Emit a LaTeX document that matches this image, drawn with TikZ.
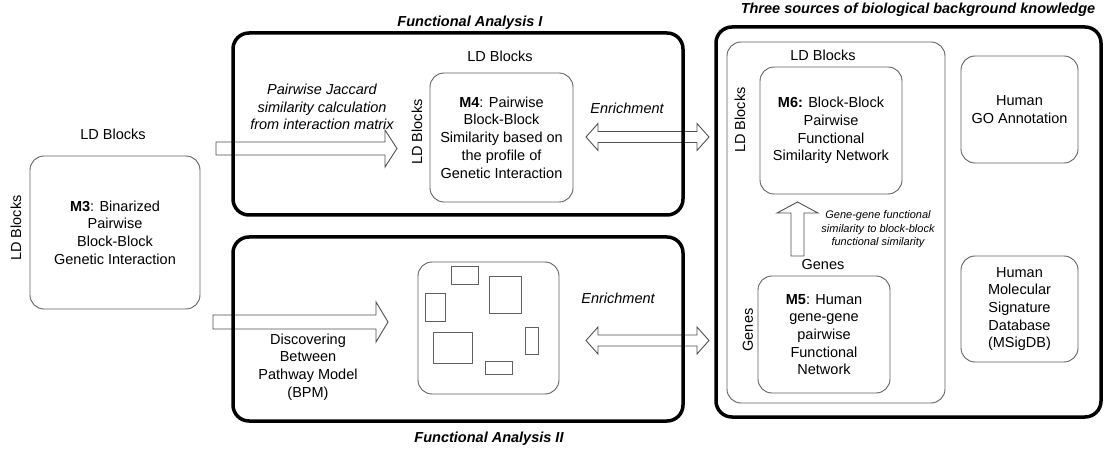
\documentclass[tikz,border=0pt]{standalone}
\usepackage{fontspec}
\setmainfont{Liberation Sans}
\definecolor{boxgray}{HTML}{606060}
\definecolor{arrowgray}{HTML}{505050}
\begin{document}
\begin{tikzpicture}[x=1pt,y=-1pt,
  every node/.style={font=\fontsize{14.5}{17.7}\selectfont, inner sep=0pt, align=center},
  ibox/.style={draw=boxgray, line width=0.9pt, rounded corners=14pt},
  bigbox/.style={draw=black, line width=3.5pt, rounded corners=16pt},
  barrow/.style={draw=arrowgray, line width=0.9pt, fill=white, line join=miter},
  ttl/.style={font=\fontsize{14.5}{17.7}\selectfont\bfseries\itshape},
  lbl/.style={font=\fontsize{14.5}{17.7}\selectfont\itshape},
  smalllbl/.style={font=\fontsize{11}{13.5}\selectfont\itshape},
  rect/.style={draw=boxgray, line width=0.9pt}
]
\useasboundingbox (0,0) rectangle (1104,449);

% block arrows (drawn first)
\coordinate (a1s) at (216,148.5);
\coordinate (a1e) at (397,148.5);
\draw[barrow] (216,142) -- (385,142) -- (385,130) -- (a1e) -- (385,167) -- (385,155) -- (216,155) -- cycle;
\coordinate (a2e) at (388,322);
\draw[barrow] (213,315) -- (376,315) -- (376,302) -- (a2e) -- (376,342) -- (376,329) -- (213,329) -- cycle;
\draw[barrow] (586,137) -- (598,123.5) -- (598,131.5) -- (697,131.5) -- (697,123.5) -- (709,137) -- (697,150.5) -- (697,142.5) -- (598,142.5) -- (598,150.5) -- cycle;
\draw[barrow] (586,340.5) -- (598,327) -- (598,335) -- (697,335) -- (697,327) -- (709,340.5) -- (697,354) -- (697,346) -- (598,346) -- (598,354) -- cycle;
\draw[barrow] (797.5,202) -- (818,213) -- (804,213) -- (804,256) -- (791,256) -- (791,213) -- (777,213) -- cycle;

% big boxes
\node[bigbox, minimum width=450pt, minimum height=182pt] (fa1) at (458,124) {};
\node[bigbox, minimum width=450pt, minimum height=184pt] (fa2) at (458,329) {};
\node[bigbox, minimum width=385pt, minimum height=390pt] (src) at (908.5,222) {};

\node[ttl] (t1) at (470,23) {Functional Analysis I};
\node[ttl] (t2) at (489,439) {Functional Analysis II};
\node[ttl] (t3) at (918,10) {Three sources of biological background knowledge};

% M3
\node (ld3) at (113,134) {LD Blocks};
\node[rotate=90] (ld3v) at (16,228) {LD Blocks};
\node[ibox, minimum width=170pt, minimum height=153pt] (m3) at (115,232.5)
  {\textbf{M3}: Binarized\\Pairwise\\Block-Block\\Genetic Interaction};

% Functional analysis I
\node[lbl] (jac) at (322,107) {Pairwise Jaccard\\similarity calculation\\from interaction matrix};
\node (ld4) at (500,56) {LD Blocks};
\node[rotate=90] (ld4v) at (417,132) {LD Blocks};
\node[ibox, minimum width=143pt, minimum height=129pt] (m4) at (501.5,137.5)
  {\textbf{M4}: Pairwise\\Block-Block\\Similarity based on\\the profile of\\Genetic Interaction};
\node[lbl] (en1) at (627,108) {Enrichment};

% Functional analysis II
\node (bpmt) at (308,367) {Discovering\\Between\\Pathway Model\\(BPM)};
\node[ibox, minimum width=141pt, minimum height=132pt] (bpm) at (488.5,328) {};
\draw[rect] (451,266) rectangle (478,284);
\draw[rect] (489,276) rectangle (521,313);
\draw[rect] (425,293) rectangle (445,321);
\draw[rect] (433,332) rectangle (472,363);
\draw[rect] (525,327) rectangle (538,354);
\draw[rect] (485,361) rectangle (512,374);
\node[lbl] (en2) at (618,298) {Enrichment};

% Sources
\node[ibox, minimum width=218pt, minimum height=361pt] (inner) at (836,222.5) {};
\node (ld6) at (823,55) {LD Blocks};
\node[rotate=90] (ld6v) at (740,120) {LD Blocks};
\node[ibox, minimum width=142pt, minimum height=127pt] (m6) at (831,130.5)
  {\textbf{M6:} Block-Block\\Pairwise\\Functional\\Similarity Network};
\node[smalllbl] (gg) at (878,229.5) {Gene-gene functional\\similarity to block-block\\functional similarity};
\node (gn) at (823,265) {Genes};
\node[rotate=90] (gnv) at (748,330) {Genes};
\node[ibox, minimum width=132pt, minimum height=117pt] (m5) at (824,334.5)
  {\textbf{M5}: Human\\gene-gene\\pairwise\\Functional\\Network};
\node[ibox, minimum width=117pt, minimum height=107pt] (go) at (1019.5,109.5)
  {Human\\GO Annotation};
\node[ibox, minimum width=117pt, minimum height=106pt] (msig) at (1019.5,309)
  {Human\\Molecular\\Signature\\Database\\(MSigDB)};
\end{tikzpicture}
\end{document}
